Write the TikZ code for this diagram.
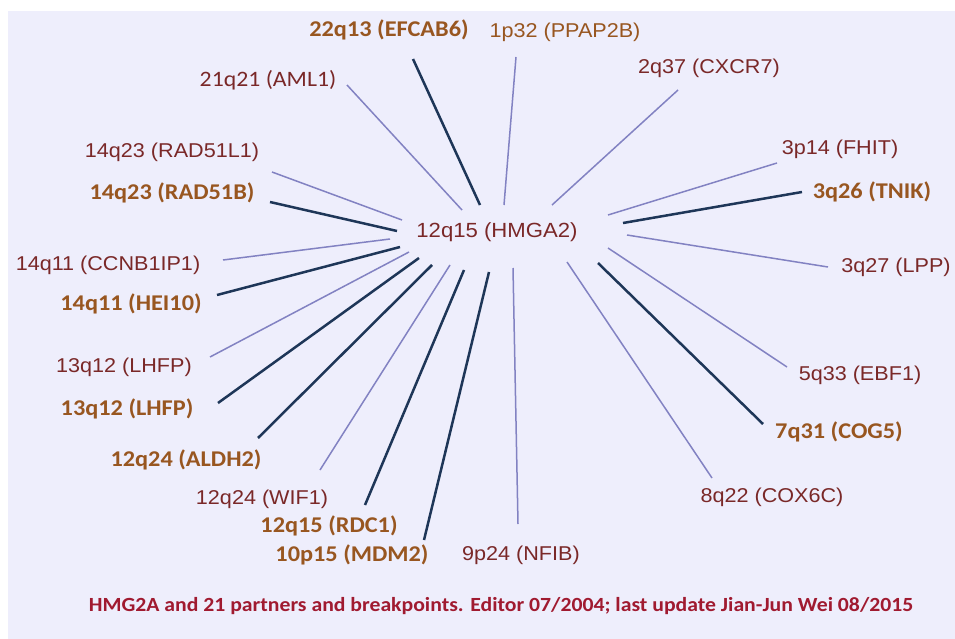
\documentclass[tikz,border=0pt]{standalone}
\usepackage{fontspec}
\newfontfamily\arialf[FakeStretch=1.08]{Liberation Sans}
\newfontfamily\calf[FakeStretch=1.08]{Carlito}
\definecolor{bgc}{HTML}{EEEEFC}
\definecolor{regc}{HTML}{7A2828}
\definecolor{bldc}{HTML}{985620}
\definecolor{lightc}{HTML}{8282C2}
\definecolor{darkc}{HTML}{1E3658}
\definecolor{footc}{HTML}{A01A30}
\tikzset{
  reg/.style={font=\arialf\fontsize{20}{24}\selectfont, text=regc, inner sep=0pt},
  regb/.style={font=\arialf\fontsize{20}{24}\selectfont, text=bldc, inner sep=0pt},
  regc/.style={font=\calf\fontsize{22}{26}\selectfont, text=regc, inner sep=0pt},
  bld/.style={font=\calf\bfseries\fontsize{22.5}{26}\selectfont, text=bldc, inner sep=0pt},
  hub/.style={font=\arialf\fontsize{20.5}{24}\selectfont, text=regc, inner sep=0pt},
  foot/.style={font=\calf\bfseries\fontsize{20.1}{24}\selectfont, text=footc, inner sep=0pt},
  light/.style={draw=lightc, line width=1.5pt},
  dark/.style={draw=darkc, line width=2.5pt}
}
\begin{document}
\begin{tikzpicture}[x=1pt,y=-1pt]
\useasboundingbox (0,0) rectangle (955,639);
\fill[white] (0,0) rectangle (955,639);
\fill[bgc] (8,11) rectangle (955,639);

\node[hub] (hub) at (497,232) {12q15 (HMGA2)};

% labels
\node[bld] (l1)  at (389,30)  {22q13 (EFCAB6)};
\node[regb] (l2) at (565,32)  {1p32 (PPAP2B)};
\node[reg] (l3)  at (709,68)  {2q37 (CXCR7)};
\node[reg] (l4)  at (840,149) {3p14 (FHIT)};
\node[bld] (l5)  at (872,192) {3q26 (TNIK)};
\node[reg] (l6)  at (896,267) {3q27 (LPP)};
\node[reg] (l7)  at (860,375) {5q33 (EBF1)};
\node[bld] (l8)  at (839,432) {7q31 (COG5)};
\node[reg] (l9)  at (772,497) {8q22 (COX6C)};
\node[reg] (l10) at (521,555) {9p24 (NFIB)};
\node[bld] (l11) at (352,555) {10p15 (MDM2)};
\node[bld] (l12) at (329,526) {12q15 (RDC1)};
\node[reg] (l13) at (262,499) {12q24 (WIF1)};
\node[bld] (l14) at (186,460) {12q24 (ALDH2)};
\node[bld] (l15) at (127,409) {13q12 (LHFP)};
\node[reg] (l16) at (124,367) {13q12 (LHFP)};
\node[bld] (l17) at (131,304) {14q11 (HEI10)};
\node[reg] (l18) at (108,265) {14q11 (CCNB1IP1)};
\node[bld] (l19) at (172,193) {14q23 (RAD51B)};
\node[reg] (l20) at (172,152) {14q23 (RAD51L1)};
\node[regc] (l21) at (268,80) {21q21 (AML1)};

% connector ends (outer o, hub h)
\coordinate (o1) at (413,59);  \coordinate (h1) at (480,205);
\coordinate (o2) at (516,57);  \coordinate (h2) at (504,205);
\coordinate (o3) at (678,90);  \coordinate (h3) at (552,205);
\coordinate (o4) at (777,163); \coordinate (h4) at (608,215);
\coordinate (o5) at (802,192); \coordinate (h5) at (623,223);
\coordinate (o6) at (828,267); \coordinate (h6) at (627,235);
\coordinate (o7) at (787,367); \coordinate (h7) at (608,248);
\coordinate (o8) at (763,424); \coordinate (h8) at (598,263);
\coordinate (o9) at (712,478); \coordinate (h9) at (567,262);
\coordinate (o10) at (518,524); \coordinate (h10) at (513,268);
\coordinate (o11) at (424,540); \coordinate (h11) at (489,272);
\coordinate (o12) at (365,505); \coordinate (h12) at (464,270);
\coordinate (o13) at (320,470); \coordinate (h13) at (450,265);
\coordinate (o14) at (258,438); \coordinate (h14) at (432,265);
\coordinate (o15) at (218,403); \coordinate (h15) at (419,258);
\coordinate (o16) at (210,357); \coordinate (h16) at (409,252);
\coordinate (o17) at (217,295); \coordinate (h17) at (400,247);
\coordinate (o18) at (223,260); \coordinate (h18) at (390,239);
\coordinate (o19) at (270,202); \coordinate (h19) at (397,231);
\coordinate (o20) at (272,172); \coordinate (h20) at (402,220);
\coordinate (o21) at (347,85);  \coordinate (h21) at (462,210);

\draw[dark]  (o1) -- (h1);
\draw[light] (o2) -- (h2);
\draw[light] (o3) -- (h3);
\draw[light] (o4) -- (h4);
\draw[dark]  (o5) -- (h5);
\draw[light] (o6) -- (h6);
\draw[light] (o7) -- (h7);
\draw[dark]  (o8) -- (h8);
\draw[light] (o9) -- (h9);
\draw[light] (o10) -- (h10);
\draw[dark]  (o11) -- (h11);
\draw[dark]  (o12) -- (h12);
\draw[light] (o13) -- (h13);
\draw[dark]  (o14) -- (h14);
\draw[dark]  (o15) -- (h15);
\draw[light] (o16) -- (h16);
\draw[dark]  (o17) -- (h17);
\draw[light] (o18) -- (h18);
\draw[dark]  (o19) -- (h19);
\draw[light] (o20) -- (h20);
\draw[light] (o21) -- (h21);

\node[foot] (ft) at (501,606) {HMG2A and 21 partners and breakpoints. Editor 07/2004; last update Jian-Jun Wei 08/2015};
\end{tikzpicture}
\end{document}
